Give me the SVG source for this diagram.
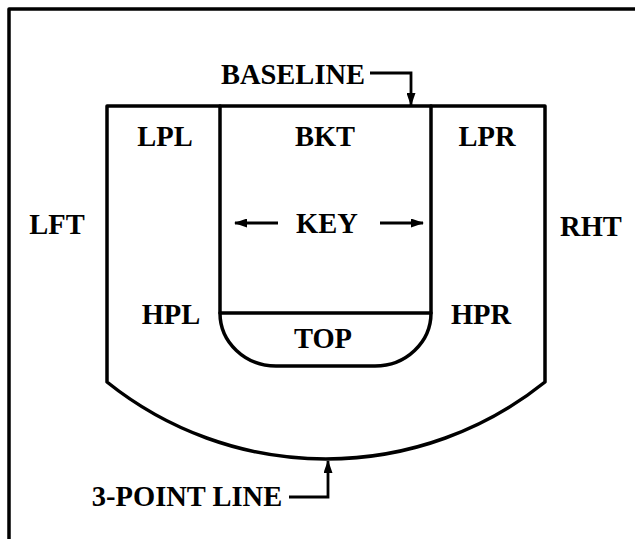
<svg xmlns="http://www.w3.org/2000/svg" width="635" height="539" viewBox="0 0 635 539">
<style>
.ln{fill:none;stroke:#000;stroke-width:3.5;stroke-linejoin:round;stroke-linecap:round}
.ar{fill:none;stroke:#000;stroke-width:2.8}
text{font-family:"Liberation Serif","Times New Roman",serif;font-weight:bold;font-size:28.5px;fill:#000;text-anchor:middle}
</style>
<defs>
<marker id="ah" viewBox="0 0 13 9" refX="12" refY="4.5" markerWidth="13" markerHeight="9" markerUnits="userSpaceOnUse" orient="auto">
<path d="M0,0 L13,4.5 L0,9 Z" fill="#000"/>
</marker>
</defs>
<rect x="0" y="0" width="635" height="539" fill="#fff"/>
<g id="frame"><path class="ln" d="M9,540 V9 H636"/></g>
<g id="court"><path class="ln" d="M107,382 V106 H545 V382 A350,350 0 0 1 107,382 Z"/></g>
<g id="key"><path class="ln" d="M220,106 V313 H431 V106"/></g>
<g id="top"><path class="ln" d="M220,313 A56,53 0 0 0 276,366 H375 A56,53 0 0 0 431,313"/><text x="323" y="348">TOP</text></g>
<g id="lpl"><text x="165" y="146">LPL</text></g>
<g id="bkt"><text x="325" y="146">BKT</text></g>
<g id="lpr"><text x="487" y="146">LPR</text></g>
<g id="lft"><text x="57" y="234">LFT</text></g>
<g id="keylabel"><text x="327" y="233">KEY</text></g>
<g id="rht"><text x="591" y="236">RHT</text></g>
<g id="hpl"><text x="171" y="324">HPL</text></g>
<g id="hpr"><text x="481" y="324">HPR</text></g>
<g id="baseline"><text x="293" y="84">BASELINE</text></g>
<g id="threept"><text x="187" y="506">3-POINT LINE</text></g>
<g id="connectors">
<path class="ar" d="M370,73 H411 V105" marker-end="url(#ah)"/>
<path class="ar" d="M289,497 H328 V461" marker-end="url(#ah)"/>
<path class="ar" d="M278,223 H235" marker-end="url(#ah)"/>
<path class="ar" d="M380,223 H423" marker-end="url(#ah)"/>
</g>
</svg>
